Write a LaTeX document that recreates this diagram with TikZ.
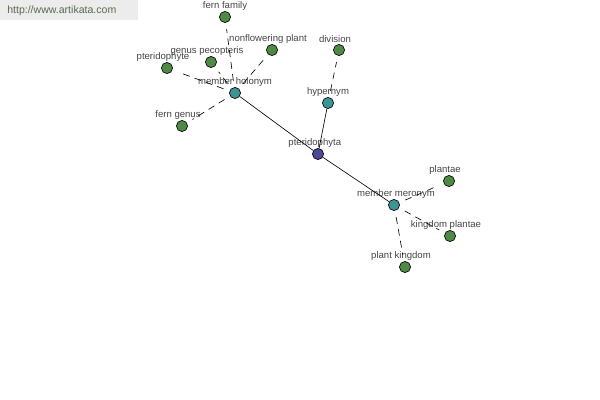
\documentclass[tikz,border=0pt]{standalone}
\usepackage{fontspec}
\setmainfont{Liberation Sans}
\definecolor{leafgreen}{HTML}{4E8A45}
\definecolor{relteal}{HTML}{3D9494}
\definecolor{rootblue}{HTML}{4A4A99}
\definecolor{txtgray}{HTML}{444444}
\definecolor{wmgray}{HTML}{ECECEC}
\definecolor{wmtext}{HTML}{586A4E}
\tikzset{
	dot/.style = {circle, draw=black, line width=0.45pt, minimum size=0.28cm, inner sep=0pt},
	leaf/.style = {dot, fill=leafgreen},
	rel/.style = {dot, fill=relteal},
	root/.style = {dot, fill=rootblue},
	lbl/.style = {font=\fontsize{6.8}{7}\selectfont, text=txtgray, inner sep=0pt, label distance=0.02cm, xshift=-0.1cm},
	link/.style = {black, line width=0.45pt},
	dlink/.style = {black, line width=0.45pt, dash pattern=on 0.17cm off 0.13cm, shorten >=0.16cm, shorten <=0.16cm}
}
\begin{document}
\begin{tikzpicture}[x=0.025cm, y=-0.025cm]
	\useasboundingbox (0,0) rectangle (600,400);
	
	% watermark
	\fill[wmgray] (0,0) rectangle (138,20);
	\node[anchor=west, text=wmtext, font=\fontsize{7.5}{8}\selectfont, inner sep=0pt] (site) at (7,11) {http://www.artikata.com};
	
	% centre and relations
	\node[root, label={[lbl, xshift=0.02cm]above:pteridophyta}] (pteridophyta) at (318,154) {};
	\node[rel, label={[lbl, xshift=0.1cm]above:member holonym}] (holonym) at (235,93) {};
	\node[rel, label={[lbl, xshift=0.1cm]above:hypernym}] (hypernym) at (328,103) {};
	\node[rel, label={[lbl, xshift=0.15cm]above:member meronym}] (meronym) at (394,205) {};
	
	% member holonym leaves
	\node[leaf, label={[lbl, xshift=0.1cm]above:fern family}] (fernfamily) at (225,17) {};
	\node[leaf, label={[lbl]above:genus pecopteris}] (pecopteris) at (211,62) {};
	\node[leaf, label={[lbl]above:nonflowering plant}] (nonflowering) at (272,50) {};
	\node[leaf, label={[lbl]above:pteridophyte}] (pteridophyte) at (167,68) {};
	\node[leaf, label={[lbl]above:fern genus}] (ferngenus) at (182,126) {};
	
	% hypernym leaf
	\node[leaf, label={[lbl]above:division}] (division) at (339,50) {};
	
	% member meronym leaves
	\node[leaf, label={[lbl]above:plantae}] (plantae) at (449,181) {};
	\node[leaf, label={[lbl]above:kingdom plantae}] (kingdomplantae) at (450,236) {};
	\node[leaf, label={[lbl]above:plant kingdom}] (plantkingdom) at (405,267) {};
	
	% solid links
	\draw[link] (holonym) -- (pteridophyta);
	\draw[link] (hypernym) -- (pteridophyta);
	\draw[link] (pteridophyta) -- (meronym);
	
	% dashed links
	\foreach \leaf in {fernfamily, pecopteris, nonflowering, pteridophyte, ferngenus} {
		\draw[dlink] (holonym) -- (\leaf);
	}
	\draw[dlink] (hypernym) -- (division);
	\foreach \leaf in {plantae, kingdomplantae, plantkingdom} {
		\draw[dlink] (meronym) -- (\leaf);
	}
\end{tikzpicture}
\end{document}
